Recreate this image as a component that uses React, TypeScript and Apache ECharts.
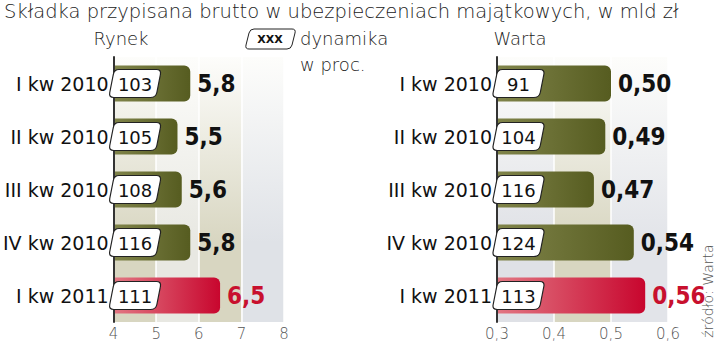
import React, { useEffect, useRef } from "react";
import * as echarts from "echarts";

const categories = ["I kw 2010", "II kw 2010", "III kw 2010", "IV kw 2010", "I kw 2011"];
const marketValues = [5.8, 5.5, 5.6, 5.8, 6.5];
const marketDynamics = [103, 105, 108, 116, 111];
const wartaValues = [0.5, 0.49, 0.47, 0.54, 0.56];
const wartaDynamics = [91, 104, 116, 124, 113];
const marketTicks = { min: 4, max: 8, interval: 1 };
const wartaTicks = { min: 0.3, max: 0.6, interval: 0.1 };

const FONT = "'DejaVu Sans', sans-serif";
const LIGHT = "'DejaVu Sans', sans-serif";
const BOLD_FONT = "'Liberation Sans Narrow', 'DejaVu Sans Condensed', sans-serif";
const RED = "#c8102e";

const vgrad = (c: string) =>
  new echarts.graphic.LinearGradient(0, 0, 0, 1, [
    { offset: 0, color: "#fdfdfb" },
    { offset: 0.7, color: c },
    { offset: 1, color: c },
  ]);

const olive = new echarts.graphic.LinearGradient(0, 0, 1, 0, [
  { offset: 0, color: "#80844a" },
  { offset: 1, color: "#565c20" },
]);
const red = new echarts.graphic.LinearGradient(0, 0, 1, 0, [
  { offset: 0, color: "#e27783" },
  { offset: 1, color: "#c8062e" },
]);

const BOX_PATH =
  "M9 0 L46 0 Q51 0 50 5 L46.5 23 Q45.5 28 40 28 L4 28 Q-1 28 0 23 L3.5 5 Q4.5 0 9 0 Z";

function makeBars(idx: number, values: number[], fmt: (v: number) => string) {
  return {
    type: "bar",
    xAxisIndex: idx,
    yAxisIndex: idx,
    barWidth: 36,
    data: values.map((v, i) => ({
      value: v,
      itemStyle: { color: i === values.length - 1 ? red : olive, borderRadius: [0, 6, 6, 0] },
      label: { color: i === values.length - 1 ? RED : "#111" },
    })),
    label: {
      show: true,
      position: "right",
      distance: 7,
      formatter: (p: any) => fmt(p.value),
      fontFamily: BOLD_FONT,
      fontWeight: "bold",
      fontSize: 24,
    },
  };
}

function makeBoxes(idx: number, min: number, dyn: number[]) {
  return {
    type: "custom",
    xAxisIndex: idx,
    yAxisIndex: idx,
    data: dyn.map((d, i) => [min, i, d]),
    encode: { x: 0, y: 1 },
    z: 5,
    renderItem: (params: any, api: any) => {
      const p = api.coord([api.value(0), api.value(1)]);
      const x = p[0] - 4;
      const y = p[1] - 14;
      return {
        type: "group",
        children: [
          {
            type: "path",
            shape: { pathData: BOX_PATH, x, y, width: 51, height: 28, layout: "cover" },
            style: { fill: "#fff", stroke: "#222", lineWidth: 1.2 },
          },
          {
            type: "text",
            style: {
              text: String(api.value(2)),
              x: x + 25.5,
              y: p[1] + 1,
              align: "center",
              verticalAlign: "middle",
              fontFamily: FONT,
              fontSize: 18,
              fill: "#111",
            },
          },
        ],
      };
    },
  };
}

export default function App() {
  const ref = useRef<HTMLDivElement>(null);
  useEffect(() => {
    const chart = echarts.init(ref.current!, null, { renderer: "svg" });
    const commonY = (idx: number) => ({
      type: "category",
      gridIndex: idx,
      data: categories,
      inverse: true,
      axisLine: { show: true, lineStyle: { color: "#333", width: 2 } },
      axisTick: { show: false },
      axisLabel: { margin: 5, fontFamily: FONT, fontSize: 19, color: "#111" },
      z: 4,
    });
    chart.setOption({
      animation: false,
      grid: [
        { left: 113, width: 171, top: 57, height: 265 },
        { left: 497, width: 171, top: 57, height: 265 },
      ],
      xAxis: [
        {
          type: "value",
          gridIndex: 0,
          ...marketTicks,
          axisLine: { show: false },
          axisTick: { show: false },
          axisLabel: { fontFamily: LIGHT, fontWeight: 200, fontSize: 15, color: "#555", margin: 4 },
          splitLine: { show: true, lineStyle: { color: "#ffffff", width: 1.5 } },
          splitArea: {
            show: true,
            areaStyle: { color: [vgrad("#d8d6c1"), vgrad("#e8e8e2"), vgrad("#d8d6c1"), vgrad("#dfe2e7")] },
          },
        },
        {
          type: "value",
          gridIndex: 1,
          ...wartaTicks,
          axisLine: { show: false },
          axisTick: { show: false },
          axisLabel: {
            fontFamily: LIGHT,
            fontWeight: 200,
            fontSize: 15,
            color: "#555",
            margin: 4,
            formatter: (v: number) => v.toFixed(1).replace(".", ","),
          },
          splitLine: { show: true, lineStyle: { color: "#ffffff", width: 1.5 } },
          splitArea: {
            show: true,
            areaStyle: { color: [vgrad("#dfe1e6"), vgrad("#d8d6c1"), vgrad("#e2e4e9")] },
          },
        },
      ],
      yAxis: [commonY(0), commonY(1)],
      series: [
        makeBars(0, marketValues, (v) => v.toFixed(1).replace(".", ",")),
        makeBars(1, wartaValues, (v) => v.toFixed(2).replace(".", ",")),
        makeBoxes(0, marketTicks.min, marketDynamics),
        makeBoxes(1, wartaTicks.min, wartaDynamics),
      ],
      graphic: [
        {
          type: "text",
          x: 4,
          y: 11,
          style: {
            text: "Składka przypisana brutto w ubezpieczeniach majątkowych, w mld zł",
            fontFamily: LIGHT,
            fontWeight: 200,
            fontSize: 19.5,
            fill: "#222",
            verticalAlign: "middle",
          },
        },
        {
          type: "text",
          x: 121,
          y: 38,
          style: { text: "Rynek", fontFamily: LIGHT, fontWeight: 200, fontSize: 18, fill: "#222", align: "center", verticalAlign: "middle" },
        },
        {
          type: "text",
          x: 520,
          y: 38,
          style: { text: "Warta", fontFamily: LIGHT, fontWeight: 200, fontSize: 18, fill: "#222", align: "center", verticalAlign: "middle" },
        },
        {
          type: "logoBox",
          x: 246,
          y: 29,
          style: { fill: "#fff", stroke: "#222", lineWidth: 1 },
        },
        {
          type: "text",
          x: 270,
          y: 39,
          style: { text: "XXX", fontFamily: FONT, fontWeight: "bold", fontSize: 11, fill: "#111", align: "center", verticalAlign: "middle" },
        },
        {
          type: "text",
          x: 300,
          y: 38,
          style: { text: "dynamika", fontFamily: LIGHT, fontWeight: 200, fontSize: 18, fill: "#222", verticalAlign: "middle" },
        },
        {
          type: "text",
          x: 300,
          y: 64,
          style: { text: "w proc.", fontFamily: LIGHT, fontWeight: 200, fontSize: 18, fill: "#222", verticalAlign: "middle" },
        },
        {
          type: "text",
          x: 708,
          y: 291,
          rotation: Math.PI / 2,
          style: { text: "źródło: Warta", fontFamily: LIGHT, fontWeight: 200, fontSize: 14, fill: "#555", align: "center", verticalAlign: "middle" },
        },
      ],
    });
    return () => chart.dispose();
  }, []);
  return <div ref={ref} style={{ position: "absolute", left: 0, top: 0, width: 720, height: 341 }} />;
}

echarts.graphic.registerShape(
  "logoBox",
  echarts.graphic.extendPath(
    "M8 0 L46 0 Q50 0 49 4 L46 16 Q45 20 41 20 L3 20 Q-1 20 0 16 L3 4 Q4 0 8 0 Z",
    {}
  ) as any
);
